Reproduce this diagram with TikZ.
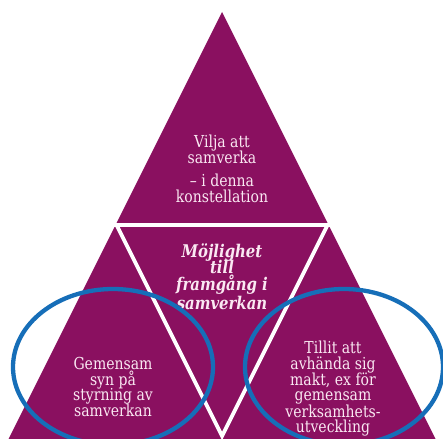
\documentclass[tikz,border=0pt]{standalone}
\usepackage{fontspec}
\usetikzlibrary{shapes.geometric}
\setmainfont[FakeStretch=0.85]{DejaVu Serif}
\definecolor{pyrpurple}{RGB}{138,16,96}
\definecolor{pyrtext}{RGB}{250,232,242}
\definecolor{pyrblue}{RGB}{22,110,184}
\begin{document}
\begin{tikzpicture}[x=1pt,y=-1pt,
  txt/.style={anchor=base,inner sep=0pt,text=pyrtext,font=\fontsize{16.5}{16}\selectfont},
  itxt/.style={txt,font=\fontsize{17.5}{16}\selectfont\bfseries\itshape},
  gap/.style={draw=white,line width=3.8pt},
  ring/.style={draw=pyrblue,line width=4.3pt}]
\useasboundingbox (0,0) rectangle (443,438);
\clip (0,0) rectangle (443,438);
\fill[white] (0,0) rectangle (443,438);
% big triangle
\coordinate (apex) at (222,12);
\coordinate (bl) at (3,450);
\coordinate (br) at (441,450);
\fill[pyrpurple] (apex) -- (bl) -- (br) -- cycle;
% white gaps
\coordinate (gl) at (100,225);
\coordinate (gr) at (344,225);
\coordinate (vl) at (116,224);
\coordinate (vr) at (328,224);
\coordinate (vb) at (222,436);
\draw[gap] (gl) -- (gr);
\draw[gap,line join=miter] (vl) -- (vb) -- (vr);
% top text
\node[txt] (t1) at (222,148) {Vilja att};
\node[txt] (t2) at (222,164) {samverka};
\node[txt] (t3) at (222,186) {– i denna};
\node[txt] (t4) at (222,202) {konstellation};
% center text
\node[itxt] (c1) at (222,257) {Möjlighet};
\node[itxt] (c2) at (222,273) {till};
\node[itxt] (c3) at (222,290) {framgång i};
\node[itxt] (c4) at (222,309) {samverkan};
% left text
\node[txt] (l1) at (113,369) {Gemensam};
\node[txt] (l2) at (113,385) {syn på};
\node[txt] (l3) at (113,400) {styrning av};
\node[txt] (l4) at (113,416) {samverkan};
% right text
\node[txt] (r1) at (333,353) {Tillit att};
\node[txt] (r2) at (333,369) {avhända sig};
\node[txt] (r3) at (333,385) {makt, ex för};
\node[txt] (r4) at (333,400) {gemensam};
\node[txt] (r5) at (333,417) {verksamhets-};
\node[txt] (r6) at (333,432) {utveckling};
% ellipses
\node[ring,ellipse,minimum width=200pt,minimum height=156pt,inner sep=0pt] (e1) at (113,367) {};
\node[ring,ellipse,minimum width=198pt,minimum height=156pt,inner sep=0pt] (e2) at (344,367) {};
\end{tikzpicture}
\end{document}
